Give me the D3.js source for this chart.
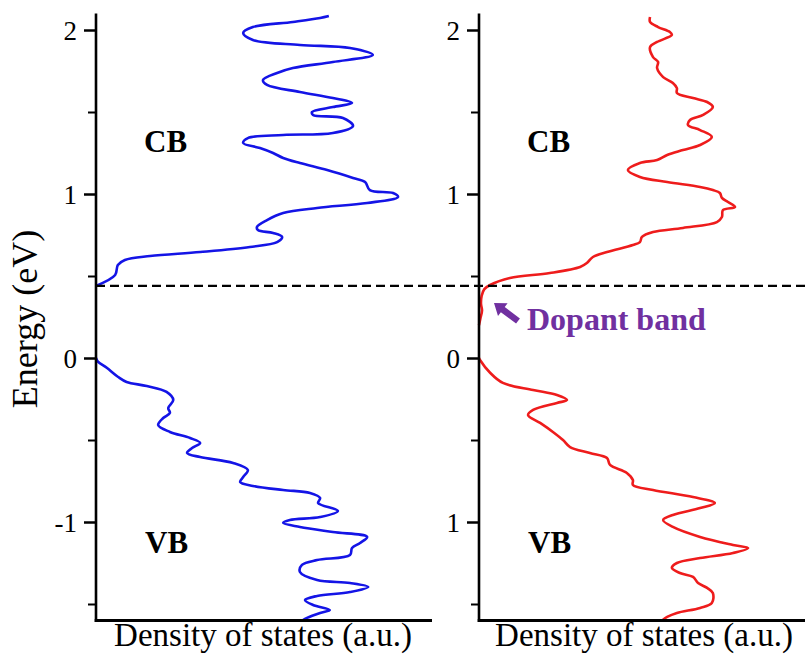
<!DOCTYPE html>
<html>
<head>
<meta charset="utf-8">
<script src="https://cdn.jsdelivr.net/npm/d3@7"></script>
<style>
  html, body { margin: 0; padding: 0; background: #fff; }
  svg { display: block; }
</style>
</head>
<body>
<svg id="chart" width="805" height="656"></svg>
<script>
// ---------- DATA (energy in eV, density of states in arbitrary units 0-100) ----------
const leftVB_E   = [0, -0.02, -0.06, -0.116, -0.146, -0.171, -0.207, -0.256, -0.305, -0.335, -0.366, -0.409, -0.451, -0.488, -0.518, -0.549, -0.579, -0.604, -0.64, -0.683, -0.726, -0.756, -0.78, -0.805, -0.823, -0.854, -0.884, -0.933, -0.97, -0.988, -1.006, -1.03, -1.061, -1.091, -1.128, -1.159, -1.201, -1.232, -1.262, -1.305, -1.354, -1.372, -1.396, -1.427, -1.451, -1.476, -1.506, -1.537, -1.555, -1.585, -1.6];
const leftVB_DOS = [0, 0.5, 3.2, 6.6, 9.1, 15.1, 21.0, 23.0, 21.5, 22.0, 20.0, 18.5, 22.0, 28.0, 31.0, 28.6, 27.1, 31.0, 40.8, 45.2, 43.8, 42.9, 46.7, 55.7, 63.7, 66.7, 66.1, 72.0, 66.7, 57.7, 55.7, 60.7, 70.5, 80.7, 78.6, 76.2, 75.6, 65.8, 61.3, 60.7, 65.8, 75.6, 81.0, 75.6, 65.8, 62.2, 64.6, 69.6, 66.7, 62.8, 61.5];

const leftCB_E   = [0.44, 0.506, 0.567, 0.598, 0.622, 0.646, 0.677, 0.707, 0.738, 0.762, 0.78, 0.799, 0.841, 0.884, 0.915, 0.945, 0.982, 1.006, 1.024, 1.073, 1.098, 1.146, 1.189, 1.22, 1.25, 1.28, 1.311, 1.341, 1.36, 1.372, 1.415, 1.463, 1.482, 1.5, 1.53, 1.555, 1.585, 1.622, 1.665, 1.695, 1.738, 1.768, 1.805, 1.848, 1.89, 1.909, 1.939, 1.982, 2.018, 2.049, 2.073, 2.085];
const leftCB_DOS = [0, 5.7, 6.5, 8.6, 16.1, 31.0, 45.8, 53.9, 55.4, 52.7, 48.2, 47.9, 50.9, 55.7, 65.8, 80.7, 89.9, 88.4, 81.5, 80.1, 76.5, 68.8, 60.7, 55.7, 52.7, 48.8, 43.8, 45.2, 55.7, 70.5, 76.5, 73.5, 64.6, 64.3, 70.5, 76.2, 70.5, 60.7, 50.9, 49.7, 53.9, 58.6, 70.5, 82.4, 75.6, 60.7, 46.7, 43.8, 46.7, 58.6, 66.7, 69.3];

const rightVB_E   = [0, -0.012, -0.09, -0.152, -0.195, -0.226, -0.256, -0.274, -0.317, -0.348, -0.396, -0.451, -0.5, -0.543, -0.579, -0.61, -0.652, -0.701, -0.744, -0.774, -0.805, -0.848, -0.884, -0.915, -0.957, -0.988, -1.03, -1.091, -1.14, -1.159, -1.189, -1.22, -1.25, -1.28, -1.311, -1.335, -1.372, -1.402, -1.433, -1.494, -1.524, -1.555, -1.579, -1.6];
const rightVB_DOS = [0, 0.3, 3.3, 7.1, 16.1, 23.2, 26.2, 23.2, 16.1, 14.6, 18.2, 22.0, 25.0, 27.1, 33.0, 38.1, 39.0, 44.0, 45.8, 45.8, 51.8, 63.7, 70.2, 65.8, 57.7, 54.8, 57.7, 65.8, 75.6, 80.1, 75.6, 65.8, 58.9, 57.4, 59.8, 63.7, 65.2, 67.9, 69.6, 69.3, 65.8, 58.9, 56.0, 54.5];

const rightCB_E   = [0.2, 0.24, 0.29, 0.33, 0.38, 0.42, 0.445, 0.488, 0.518, 0.555, 0.579, 0.616, 0.646, 0.689, 0.707, 0.738, 0.768, 0.793, 0.829, 0.86, 0.902, 0.921, 0.951, 0.976, 1.006, 1.024, 1.043, 1.073, 1.104, 1.146, 1.189, 1.207, 1.238, 1.268, 1.299, 1.348, 1.39, 1.421, 1.451, 1.482, 1.53, 1.561, 1.585, 1.616, 1.646, 1.677, 1.713, 1.768, 1.805, 1.835, 1.896, 1.927, 1.97, 1.988, 2.018, 2.049, 2.079];
const rightCB_DOS = [0, 0.4, 0.9, 0.6, 0.8, 1.6, 3.3, 9.2, 21.1, 30.1, 32.1, 33.9, 38.1, 45.8, 47.9, 48.5, 51.8, 60.7, 70.8, 72.3, 72.6, 76.2, 74.1, 72.3, 71.7, 69.6, 65.8, 56.0, 47.9, 44.3, 47.9, 53.0, 56.0, 60.7, 65.8, 69.3, 65.8, 62.2, 62.8, 66.7, 69.6, 67.9, 63.7, 58.9, 58.9, 57.7, 54.8, 53.0, 53.3, 51.8, 50.9, 53.0, 57.4, 56.8, 53.3, 50.9, 50.9];

const majorTicks = [-1, 0, 1, 2];
const minorTicks = [-1.5, -0.5, 0.5, 1.5];
const leftTickLabels  = ["-1", "0", "1", "2"];
const rightTickLabels = ["1", "0", "1", "2"];
const fermiLevel = 0.44;
const xLabel = "Density of states (a.u.)";
const yLabel = "Energy (eV)";

// ---------- DRAWING ----------
const svg = d3.select("#chart");
const W = 805;
const FONT = "Liberation Serif";

const y = d3.scaleLinear().domain([-1.6, 2.1]).range([620.4, 13.6]);
const xLeft  = d3.scaleLinear().domain([0, 100]).range([96, 432]);
const xRight = d3.scaleLinear().domain([0, 100]).range([479, 815]);

const zip = (E, D) => E.map((e, i) => ({ e, d: D[i] }));

function panel(x, vb, cb, color, labels, axisRight, labelCenter) {
  const g = svg.append("g");
  const line = d3.line().x(p => x(p.d)).y(p => y(p.e)).curve(d3.curveCatmullRom.alpha(0.5));
  [vb, cb].forEach(data => {
    g.append("path").datum(data)
      .attr("d", line)
      .attr("fill", "none")
      .attr("stroke", color)
      .attr("stroke-width", 2.6)
      .attr("stroke-linejoin", "round");
  });

  const x0 = x(0);
  const major = d3.axisLeft(y).tickValues(majorTicks).tickSize(12).tickPadding(7)
    .tickFormat((d, i) => labels[i]);
  const gMaj = svg.append("g").attr("transform", `translate(${x0},0)`).call(major);
  gMaj.select(".domain").remove();
  gMaj.selectAll("line").attr("stroke", "#000").attr("stroke-width", 2.5);
  gMaj.selectAll("text").attr("font-family", FONT).attr("font-size", 27).attr("fill", "#000").attr("dy", "0.34em");
  const minor = d3.axisLeft(y).tickValues(minorTicks).tickSize(8).tickFormat("");
  const gMin = svg.append("g").attr("transform", `translate(${x0},0)`).call(minor);
  gMin.select(".domain").remove();
  gMin.selectAll("line").attr("stroke", "#000").attr("stroke-width", 2);

  svg.append("line").attr("x1", x0).attr("x2", x0).attr("y1", 13.6).attr("y2", y(-1.6) + 1.5)
    .attr("stroke", "#000").attr("stroke-width", 2.6);
  svg.append("line").attr("x1", x0 - 1.3).attr("x2", axisRight).attr("y1", y(-1.6)).attr("y2", y(-1.6))
    .attr("stroke", "#000").attr("stroke-width", 3);

  svg.append("text").attr("x", labelCenter).attr("y", 646)
    .attr("text-anchor", "middle").attr("font-family", FONT).attr("font-size", 33)
    .text(xLabel);

  svg.append("text").attr("x", x0 + 48).attr("y", 152)
    .attr("font-family", FONT).attr("font-weight", "bold").attr("font-size", 31).text("CB");
  svg.append("text").attr("x", x0 + 49).attr("y", 553)
    .attr("font-family", FONT).attr("font-weight", "bold").attr("font-size", 31).text("VB");
}

panel(xLeft, zip(leftVB_E, leftVB_DOS), zip(leftCB_E, leftCB_DOS), "#1414e6", leftTickLabels, 432, 263);
panel(xRight, zip(rightVB_E, rightVB_DOS), zip(rightCB_E, rightCB_DOS), "#ee1c1c", rightTickLabels, W, 644);

svg.append("line")
  .attr("x1", xLeft(0)).attr("x2", W)
  .attr("y1", y(fermiLevel)).attr("y2", y(fermiLevel))
  .attr("stroke", "#000").attr("stroke-width", 2.4).attr("stroke-dasharray", "9,5");

svg.append("text")
  .attr("transform", `translate(37,319) rotate(-90)`)
  .attr("text-anchor", "middle").attr("font-family", FONT).attr("font-size", 36)
  .text(yLabel);

const purple = "#7030a0";
const ax = 518, ay = 321, bx = 494, by = 303;
const ang = Math.atan2(by - ay, bx - ax);
const len = Math.hypot(bx - ax, by - ay);
const arrow = svg.append("g").attr("transform", `translate(${ax},${ay}) rotate(${ang * 180 / Math.PI})`);
arrow.append("path")
  .attr("d", `M0,-3.2 L${len - 11},-3.2 L${len - 11},-8 L${len},0 L${len - 11},8 L${len - 11},3.2 L0,3.2 Z`)
  .attr("fill", purple);
svg.append("text").attr("x", 527).attr("y", 330)
  .attr("font-family", FONT).attr("font-weight", "bold").attr("font-size", 32)
  .attr("fill", purple).text("Dopant band");
</script>
</body>
</html>
